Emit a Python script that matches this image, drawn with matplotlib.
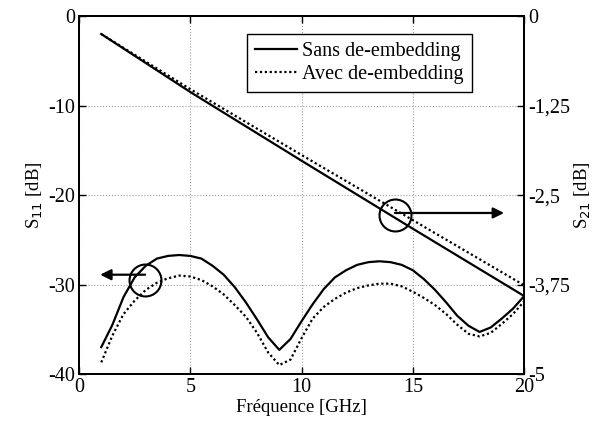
import matplotlib
matplotlib.use("Agg")
import matplotlib.pyplot as plt
import numpy as np

# frequency grid for S11 (GHz)
freq = [1.0, 1.5, 2.0, 2.5, 3.0, 3.5, 4.0, 4.5, 5.0, 5.5, 6.0, 6.5, 7.0, 7.5,
        8.0, 8.5, 9.0, 9.5, 10.0, 10.5, 11.0, 11.5, 12.0, 12.5, 13.0, 13.5,
        14.0, 14.5, 15.0, 15.5, 16.0, 16.5, 17.0, 17.5, 18.0, 18.5, 19.0,
        19.5, 20.0]
s11_sans = [-37.0, -34.5, -31.4, -29.2, -27.9, -27.1, -26.8, -26.7, -26.8,
            -27.1, -27.9, -28.9, -30.3, -32.0, -33.9, -35.9, -37.3, -36.1,
            -34.1, -32.2, -30.5, -29.2, -28.4, -27.8, -27.5, -27.4, -27.5,
            -27.8, -28.4, -29.4, -30.6, -32.0, -33.5, -34.6, -35.3, -34.8,
            -33.8, -32.7, -31.3]
s11_avec = [-38.7, -35.7, -33.3, -31.8, -30.6, -29.8, -29.3, -29.0, -29.1,
            -29.5, -30.2, -31.1, -32.3, -33.6, -35.4, -37.6, -39.0, -38.4,
            -36.0, -33.8, -32.5, -31.6, -30.9, -30.4, -30.1, -29.9, -29.9,
            -30.2, -30.8, -31.5, -32.3, -33.3, -34.5, -35.5, -35.8, -35.4,
            -34.4, -33.3, -31.9]

# S21 (dB), right axis
freq21 = [1, 5, 10, 15, 20]
s21_sans = [-0.25, -1.06, -2.02, -2.97, -3.91]
s21_avec = [-0.25, -1.02, -1.94, -2.85, -3.76]

left_ticks = [0, -10, -20, -30, -40]
right_ticks = [0, -1.25, -2.5, -3.75, -5]
right_labels = ["0", "-1,25", "-2,5", "-3,75", "-5"]
x_ticks = [0, 5, 10, 15, 20]

plt.rcParams['font.family'] = ['Liberation Serif', 'DejaVu Serif']
plt.rcParams['axes.unicode_minus'] = False
plt.rcParams['font.size'] = 13.5

fig = plt.figure(figsize=(5.95, 4.25), dpi=100)
ax = fig.add_axes([0.1328, 0.12, 0.748, 0.842])
ax2 = ax.twinx()

ax.plot(freq, s11_sans, color='k', lw=1.6)
ax.plot(freq, s11_avec, color='k', lw=1.6, linestyle=(0, (1, 1.2)))
ax2.plot(freq21, s21_sans, color='k', lw=1.6, label="Sans de-embedding")
ax2.plot(freq21, s21_avec, color='k', lw=1.6, linestyle=(0, (1, 1.2)),
         label="Avec de-embedding")

ax.set_xlim(0, 20)
ax.set_ylim(-40, 0)
ax2.set_ylim(-5, 0)
ax.set_xticks(x_ticks)
ax.set_yticks(left_ticks)
ax2.set_yticks(right_ticks)
ax2.set_yticklabels(right_labels)

ax.grid(True, color='#a0a0a0', linestyle=':', lw=0.8)
ax.tick_params(direction='in', length=5, top=True, width=1, pad=3,
               labelsize=14.5)
ax2.tick_params(direction='in', length=5, width=1, pad=3, labelsize=14.5)
for a in (ax, ax2):
    for s in a.spines.values():
        s.set_linewidth(1.4)

ax.set_xlabel("Fréquence [GHz]", labelpad=1)
ax.set_ylabel("S$_{11}$ [dB]", labelpad=2)
ax2.set_ylabel("S$_{21}$ [dB]", labelpad=2)

# circles + arrows
ax.plot(2.97, -29.5, 'o', ms=23, mfc='none', mec='k', mew=1.5)
ax.annotate("", xy=(0.95, -28.9), xytext=(2.97, -28.9),
            arrowprops=dict(arrowstyle='-|>', color='k', lw=1.6,
                            mutation_scale=16, shrinkA=0, shrinkB=0))
ax.plot(14.2, -22.2, 'o', ms=23, mfc='none', mec='k', mew=1.5)
ax.annotate("", xy=(19.1, -22.0), xytext=(14.2, -22.0),
            arrowprops=dict(arrowstyle='-|>', color='k', lw=1.6,
                            mutation_scale=16, shrinkA=0, shrinkB=0))

leg = ax2.legend(loc='upper right', bbox_to_anchor=(0.883, 0.95),
                 fancybox=False, framealpha=1, edgecolor='k', fontsize=14.5,
                 handlelength=2.1, borderpad=0.4, labelspacing=0.2,
                 handletextpad=0.25, borderaxespad=0)
leg.get_frame().set_linewidth(1.0)

fig.savefig("out.png", dpi=100)
